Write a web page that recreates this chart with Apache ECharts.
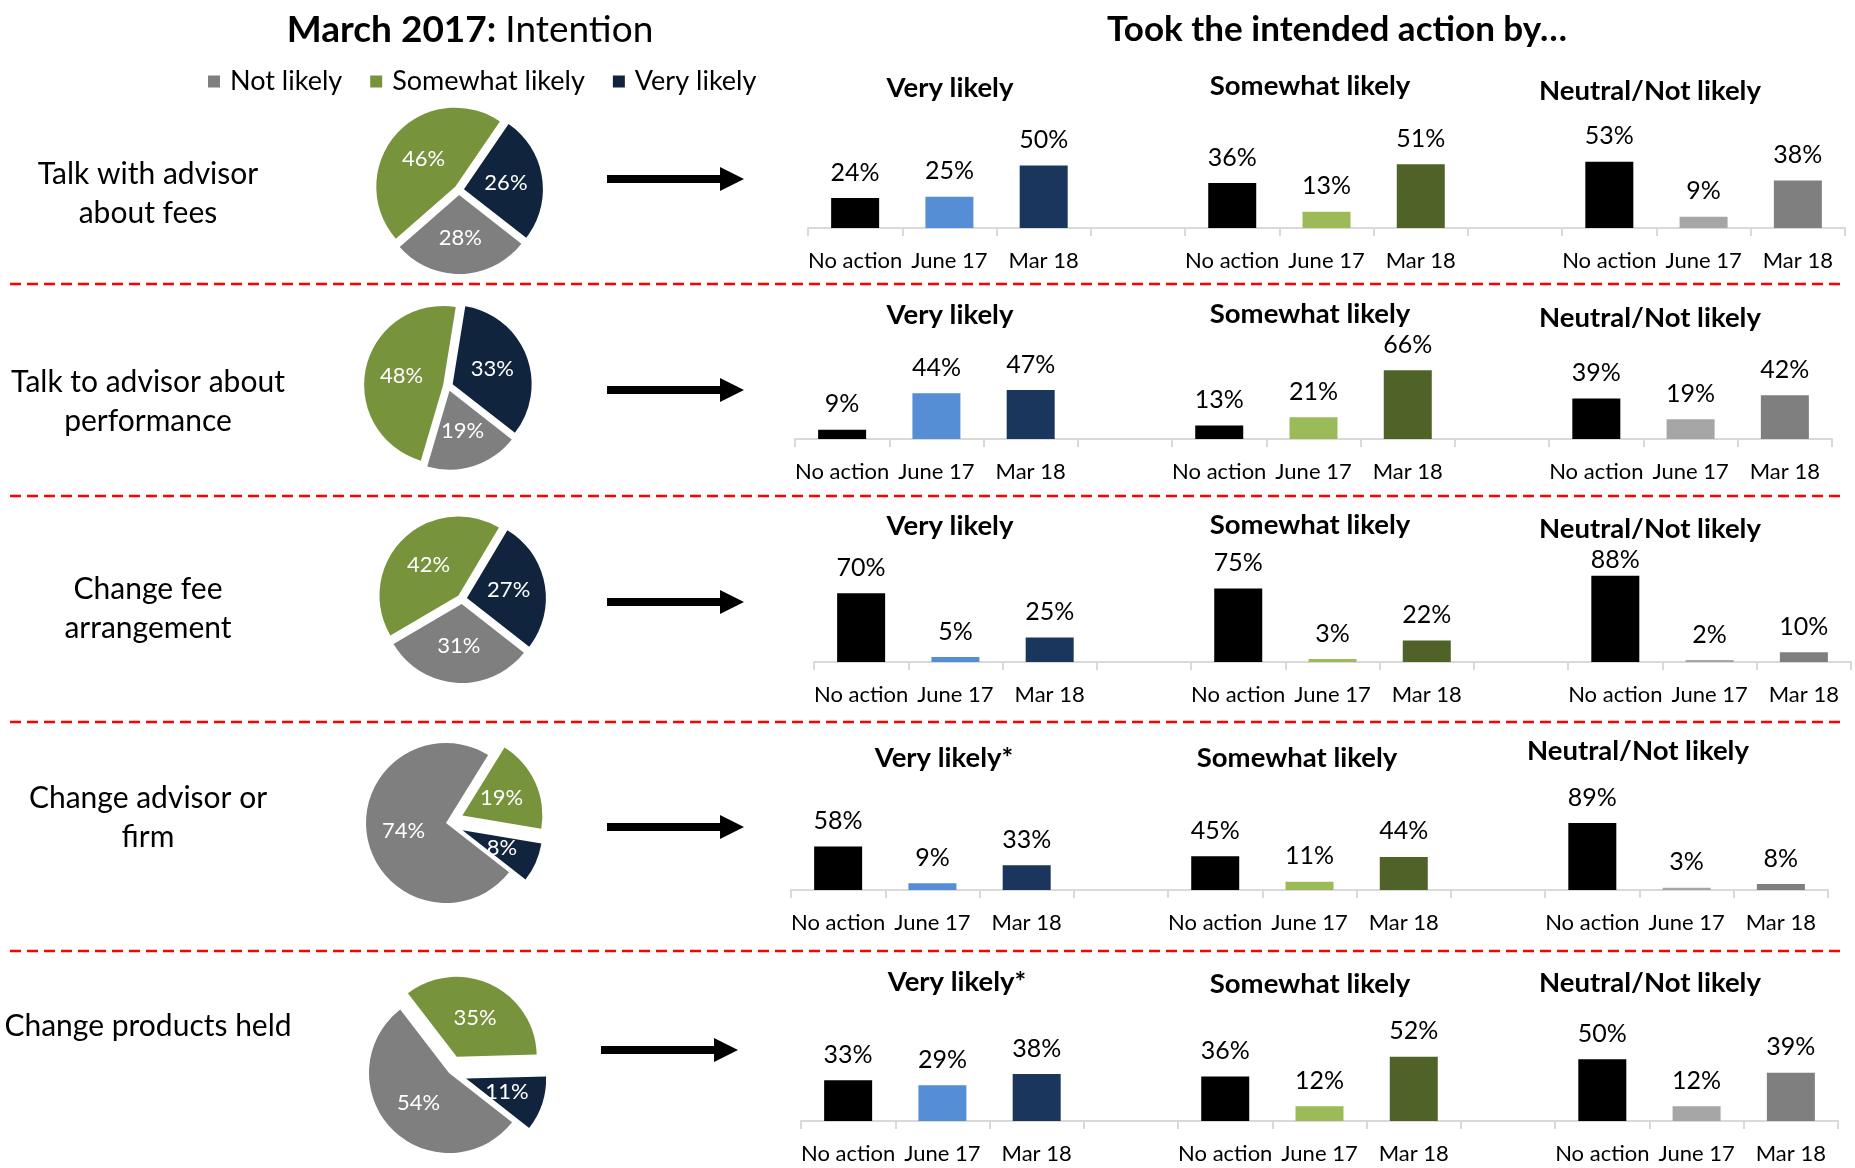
<!DOCTYPE html>
<html>
<head>
<meta charset="utf-8">
<style>
 html, body{
 	margin: 0;
 	padding: 0;
 	background: #fff;
 }
 #chart{
 	width: 1855px;
 	height: 1168px;
 }
</style>
<script src="https://cdn.jsdelivr.net/npm/echarts@6/dist/echarts.min.js"></script>
</head>
<body>
<div id="chart"></div>
<script type="text/javascript">
	// 数据
	var rowLabels = ['Talk with advisor\nabout fees', 'Talk to advisor about\nperformance', 'Change fee\narrangement', 'Change advisor or\nfirm', 'Change products held'];
	var intentNames = ['Not likely', 'Somewhat likely', 'Very likely'];
	var intention = [
		[28, 46, 26],
		[19, 48, 33],
		[31, 42, 27],
		[74, 19, 8],
		[54, 35, 11]
	];
	var periods = ['No action', 'June 17', 'Mar 18'];
	var veryLikely = [[24, 25, 50], [9, 44, 47], [70, 5, 25], [58, 9, 33], [33, 29, 38]];
	var somewhatLikely = [[36, 13, 51], [13, 21, 66], [75, 3, 22], [45, 11, 44], [36, 12, 52]];
	var neutralNotLikely = [[53, 9, 38], [39, 19, 42], [88, 2, 10], [89, 3, 8], [50, 12, 39]];
	var groupTitles = [
		['Very likely', 'Somewhat likely', 'Neutral/Not likely'],
		['Very likely', 'Somewhat likely', 'Neutral/Not likely'],
		['Very likely', 'Somewhat likely', 'Neutral/Not likely'],
		['Very likely*', 'Somewhat likely', 'Neutral/Not likely'],
		['Very likely*', 'Somewhat likely', 'Neutral/Not likely']
	];

	// 样式 / 位置
	var FONT = 'Lato, "Open Sans", sans-serif';
	var pieColors = ['#7F7F7F', '#77933C', '#10243E'];
	var barColors = [
		['#000000', '#558ED5', '#1A365D'],
		['#000000', '#9BBB59', '#4F6228'],
		['#000000', '#A6A6A6', '#7F7F7F']
	];
	var pieCenters = [[459, 190], [448, 386], [462, 599], [446, 823], [449, 1073]];
	var baselines = [228, 439, 662, 890, 1121];
	var axisLeft = [808, 795, 814, 791, 801];
	var yMax = [80, 96, 102, 133, 81];
	var arrowPos = [[607, 179], [607, 390], [607, 602], [607, 827], [601, 1050]];
	var sepY = [284, 496, 722, 951];
	var rowLabelY = [194, 402, 609, 818, 1026];
	var groupTitlePos = [
		[[950, 88], [1310, 86], [1650, 91]],
		[[950, 315], [1310, 314], [1650, 318]],
		[[950, 526], [1310, 525], [1650, 529]],
		[[944, 758], [1297, 758], [1638, 751]],
		[[957, 982], [1310, 984], [1650, 983]]
	];

	var groups = [veryLikely, somewhatLikely, neutralNotLikely];
	var cats = periods.concat(['']).concat(periods).concat(['']).concat(periods);

	var grids = [], xAxes = [], yAxes = [], series = [], graphics = [];

	for (var r = 0; r < 5; r++) {
		// 饼图
		var exploded = r < 3;
		series.push({
			type: 'pie',
			center: pieCenters[r],
			radius: exploded ? 79 : 80,
			startAngle: -38,
			selectedMode: 'multiple',
			selectedOffset: exploded ? 5 : 18,
			animation: false,
			label: {
				show: true,
				position: 'inside',
				formatter: '{c}%',
				color: '#fff',
				fontSize: 22,
				fontFamily: FONT
			},
			labelLine: {show: false},
			emphasis: {disabled: true},
			data: intention[r].map(function (v, i) {
				return {
					value: v,
					name: intentNames[i],
					selected: exploded ? true : i > 0,
					itemStyle: {color: pieColors[i]}
				};
			})
		});

		// 柱状图
		grids.push({
			left: axisLeft[r],
			width: 1037,
			top: baselines[r] - 100,
			height: 100
		});
		xAxes.push({
			type: 'category',
			gridIndex: r,
			data: cats,
			axisLine: {lineStyle: {color: '#D9D9D9', width: 2}},
			axisTick: {show: true, interval: 0, length: 8, lineStyle: {color: '#D9D9D9', width: 2}},
			axisLabel: {interval: 0, color: '#000', fontSize: 22, fontFamily: FONT, margin: 22}
		});
		yAxes.push({
			type: 'value',
			gridIndex: r,
			min: 0,
			max: yMax[r],
			show: false,
			splitLine: {show: false}
		});
		var d = [];
		for (var g = 0; g < 3; g++) {
			for (var k = 0; k < 3; k++) {
				var v = groups[g][r][k];
				var item = {value: v, itemStyle: {color: barColors[g][k]}};
				// 接近顶部的标签往下压 (像Excel一样留在图表区内)
				if (v / yMax[r] > 0.8) item.label = {distance: 3};
				d.push(item);
			}
			if (g < 2) d.push('-');
		}
		series.push({
			type: 'bar',
			xAxisIndex: r,
			yAxisIndex: r,
			barWidth: 48,
			animation: false,
			label: {
				show: true,
				position: 'top',
				distance: 13,
				formatter: '{c}%',
				color: '#000',
				fontSize: 25,
				fontFamily: FONT
			},
			data: d
		});

		// 行标题
		graphics.push({
			type: 'text',
			x: 148,
			y: rowLabelY[r],
			style: {
				text: rowLabels[r],
				textAlign: 'center',
				textVerticalAlign: 'middle',
				font: '30px ' + FONT,
				lineHeight: 39,
				fill: '#000'
			}
		});

		// 分组标题
		for (var gt = 0; gt < 3; gt++) {
			graphics.push({
				type: 'text',
				x: groupTitlePos[r][gt][0],
				y: groupTitlePos[r][gt][1],
				style: {
					text: groupTitles[r][gt],
					textAlign: 'center',
					textVerticalAlign: 'middle',
					font: 'bold 27.5px ' + FONT,
					fill: '#000'
				}
			});
		}

		// 箭头
		graphics.push({
			type: 'polygon',
			x: arrowPos[r][0],
			y: arrowPos[r][1],
			shape: {points: [[0, -4], [113, -4], [113, -12], [137, 0], [113, 12], [113, 4], [0, 4]]},
			style: {fill: '#000'}
		});
	}

	// 红色虚线
	sepY.forEach(function (y) {
		graphics.push({
			type: 'line',
			shape: {x1: 10, y1: y, x2: 1842, y2: y},
			style: {stroke: '#FF0000', lineWidth: 2.5, lineDash: [11, 6]}
		});
	});

	// 标题
	graphics.push({
		type: 'text',
		x: 470,
		y: 30,
		style: {
			text: '{b|March 2017: }{n|Intention}',
			textAlign: 'center',
			textVerticalAlign: 'middle',
			rich: {
				b: {font: 'bold 37px ' + FONT, fill: '#000'},
				n: {font: '37px ' + FONT, fill: '#000'}
			}
		}
	});
	graphics.push({
		type: 'text',
		x: 1337,
		y: 30,
		style: {
			text: 'Took the intended action by…',
			textAlign: 'center',
			textVerticalAlign: 'middle',
			font: 'bold 35px ' + FONT,
			fill: '#000'
		}
	});

	var options = {
		animation: false,
		backgroundColor: '#fff',
		legend: {
			data: intentNames,
			left: 203,
			top: 63,
			icon: 'rect',
			itemWidth: 12,
			itemHeight: 12,
			itemGap: 28,
			selectedMode: false,
			textStyle: {fontSize: 27, fontFamily: FONT, color: '#000', padding: [0, 0, 0, 5]}
		},
		grid: grids,
		xAxis: xAxes,
		yAxis: yAxes,
		series: series,
		graphic: graphics
	};

	var myChart = echarts.init(document.getElementById('chart'));
	myChart.setOption(options);
</script>
</body>
</html>
